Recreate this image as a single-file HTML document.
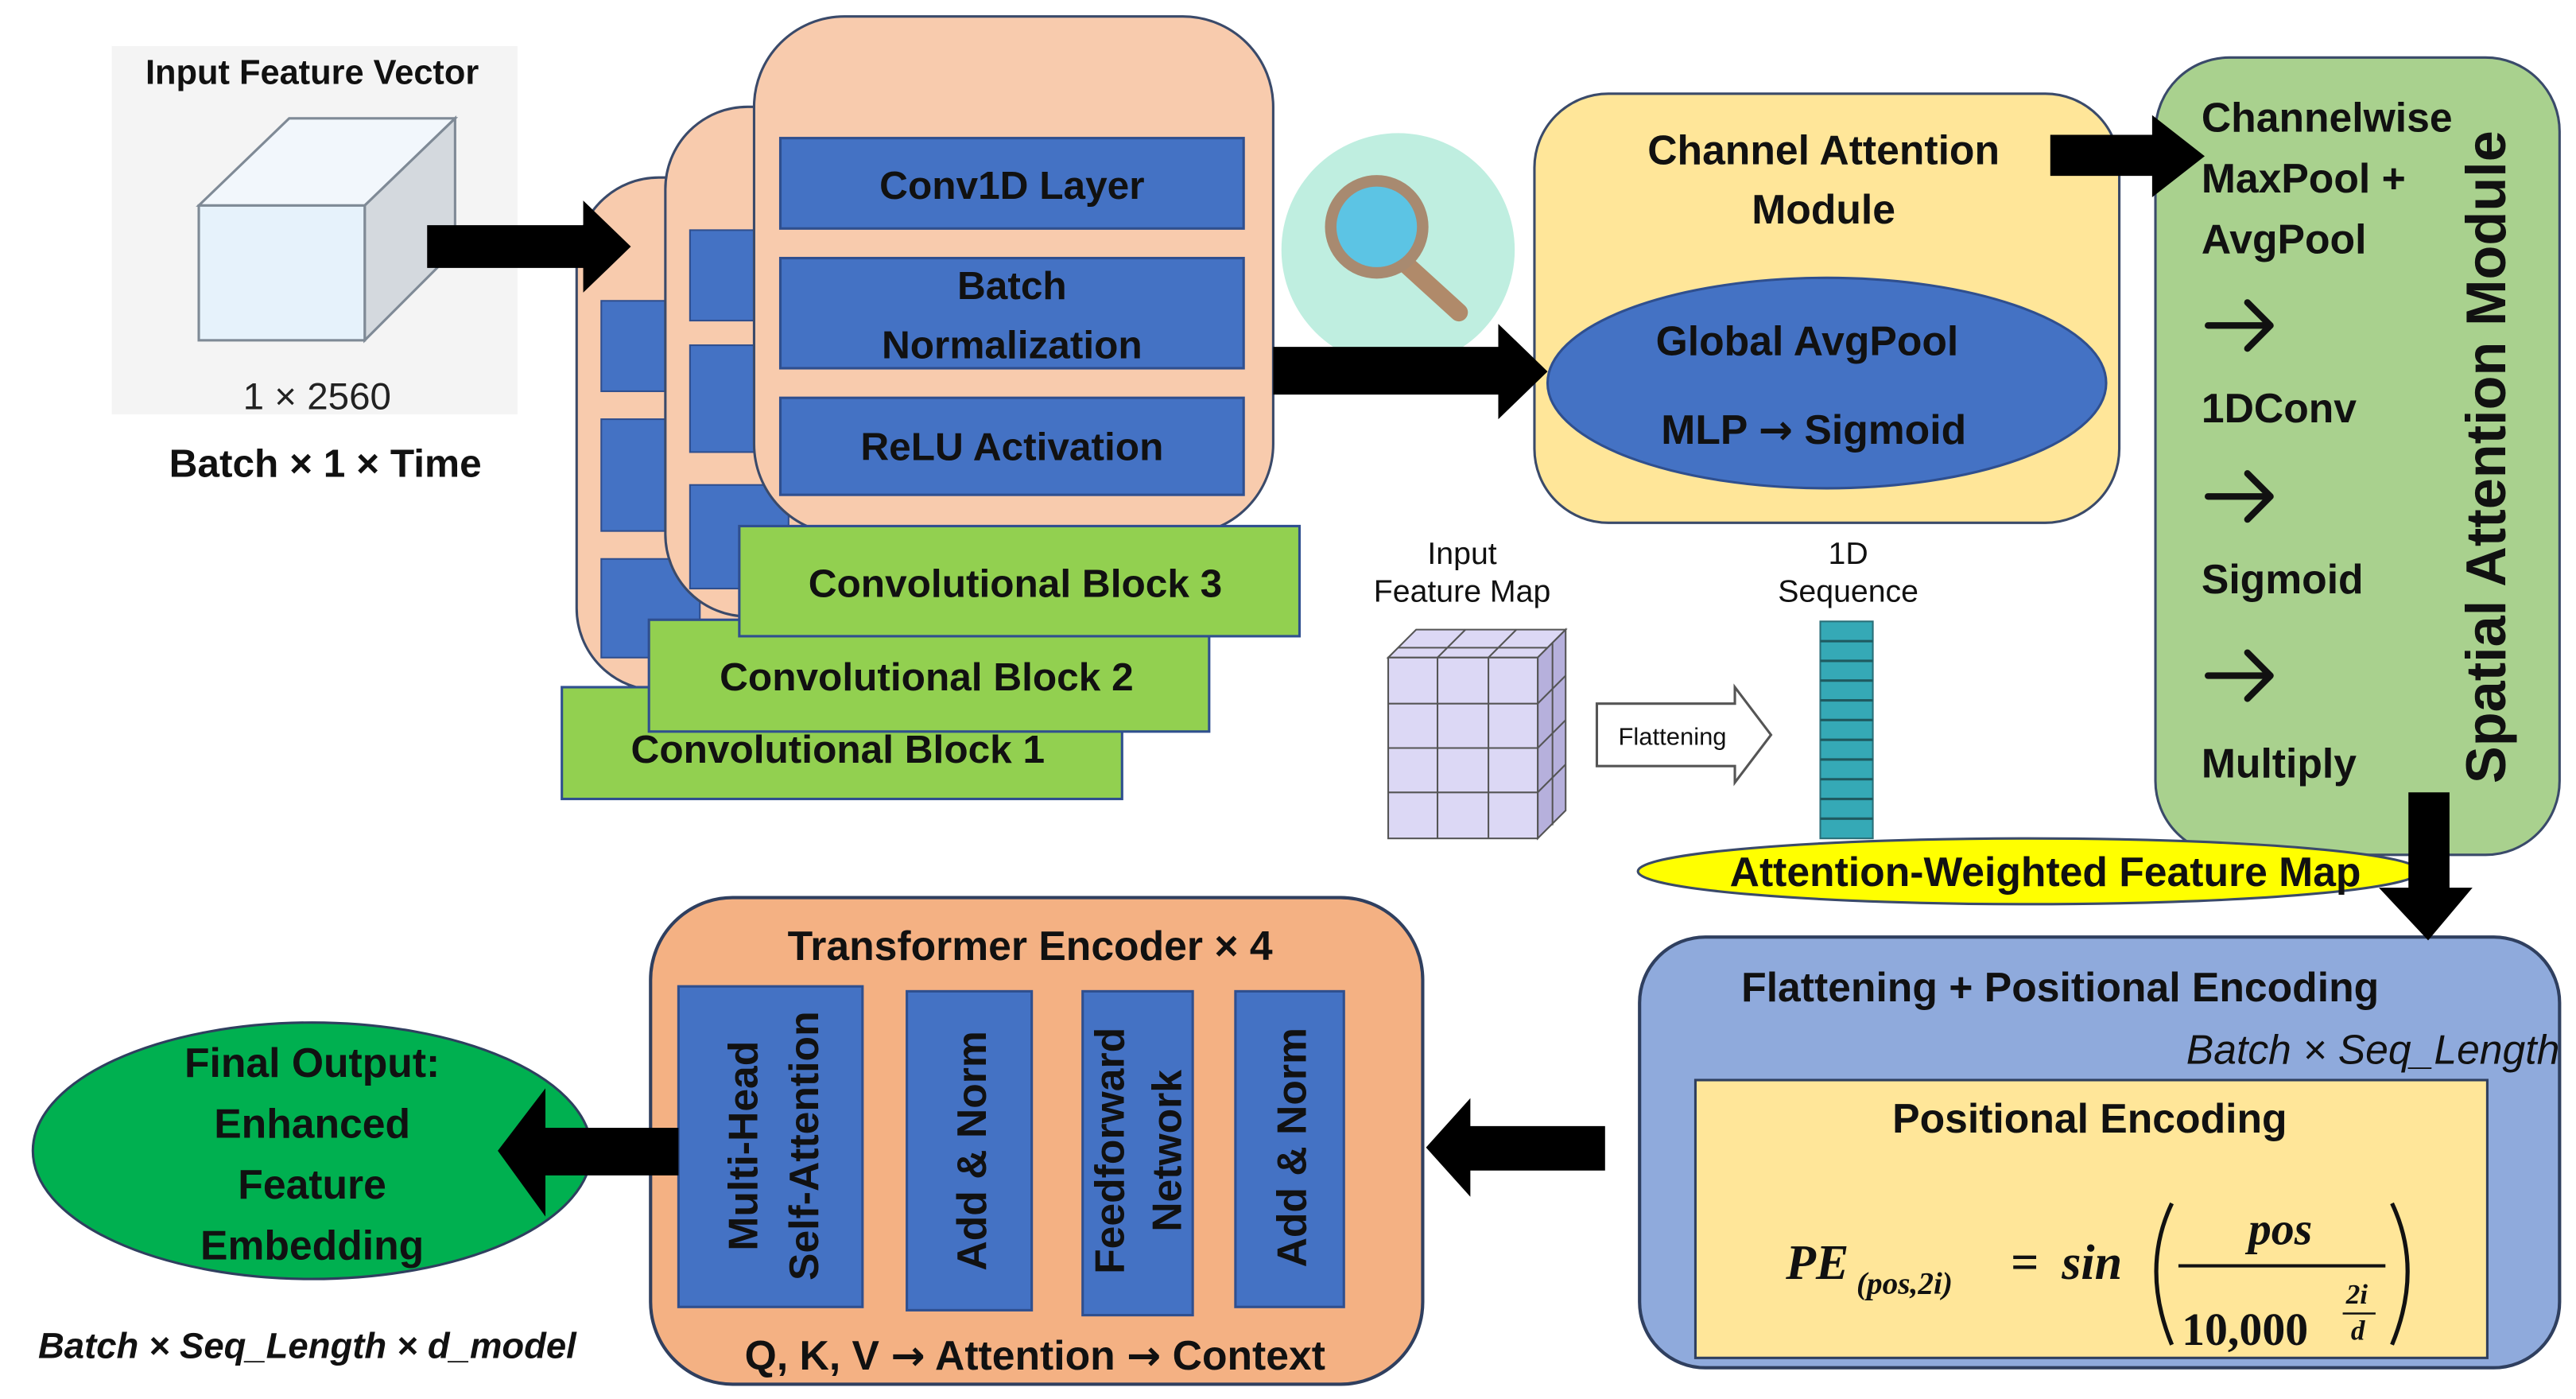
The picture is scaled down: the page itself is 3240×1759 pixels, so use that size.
<!DOCTYPE html>
<html><head><meta charset="utf-8"><style>html,body{margin:0;padding:0;background:#fff}svg{display:block}</style></head>
<body>
<svg width="3240" height="1759" viewBox="0 0 1568 851" preserveAspectRatio="none" xmlns="http://www.w3.org/2000/svg" font-family="Liberation Sans, sans-serif">
<rect width="1568" height="851" fill="#fff"/>
<!-- Input feature vector -->
<rect x="68" y="28" width="247" height="224" fill="#f4f4f4"/>
<text x="190" y="51" font-size="21" font-weight="bold" text-anchor="middle" fill="#111">Input Feature Vector</text>
<polygon points="121,125 176,72 277,72 222,125" fill="#f2f7fc" stroke="#7f8a96" stroke-width="1.5"/>
<polygon points="222,125 277,72 277,152 222,207" fill="#d4d9de" stroke="#7f8a96" stroke-width="1.5"/>
<rect x="121" y="125" width="101" height="82" fill="#e6f2fb" stroke="#7f8a96" stroke-width="1.5"/>
<text x="193" y="249" font-size="23" text-anchor="middle" fill="#222">1 × 2560</text>
<text x="198" y="290" font-size="24" font-weight="bold" text-anchor="middle" fill="#111">Batch × 1 × Time</text>
<!-- conv stacks -->
<rect x="351" y="108" width="316" height="312" rx="50" fill="#f8cbad" stroke="#3a4a6a" stroke-width="1.5"/>
<rect x="366" y="183" width="60" height="55" fill="#4472c4" stroke="#2f4f8f"/>
<rect x="366" y="255" width="60" height="68" fill="#4472c4" stroke="#2f4f8f"/>
<rect x="366" y="340" width="60" height="60" fill="#4472c4" stroke="#2f4f8f"/>
<rect x="405" y="65" width="316" height="310" rx="50" fill="#f8cbad" stroke="#3a4a6a" stroke-width="1.5"/>
<rect x="420" y="140" width="60" height="55" fill="#4472c4" stroke="#2f4f8f"/>
<rect x="420" y="210" width="60" height="65" fill="#4472c4" stroke="#2f4f8f"/>
<rect x="420" y="295" width="60" height="63" fill="#4472c4" stroke="#2f4f8f"/>
<rect x="459" y="10" width="316" height="315" rx="55" fill="#f8cbad" stroke="#3a4a6a" stroke-width="1.5"/>
<rect x="475" y="84" width="282" height="55" fill="#4472c4" stroke="#2f4f8f" stroke-width="1.5"/>
<rect x="475" y="157" width="282" height="67" fill="#4472c4" stroke="#2f4f8f" stroke-width="1.5"/>
<rect x="475" y="242" width="282" height="59" fill="#4472c4" stroke="#2f4f8f" stroke-width="1.5"/>
<g font-size="24" font-weight="bold" fill="#111" text-anchor="middle">
<text x="616" y="121">Conv1D Layer</text>
<text x="616" y="182">Batch</text>
<text x="616" y="218">Normalization</text>
<text x="616" y="280">ReLU Activation</text>
</g>
<rect x="342" y="418" width="341" height="68" fill="#92d050" stroke="#2f4f8f" stroke-width="1.5"/>
<rect x="395" y="377" width="341" height="68" fill="#92d050" stroke="#2f4f8f" stroke-width="1.5"/>
<rect x="450" y="320" width="341" height="67" fill="#92d050" stroke="#2f4f8f" stroke-width="1.5"/>
<g font-size="24" font-weight="bold" fill="#111" text-anchor="middle">
<text x="510" y="464">Convolutional Block 1</text>
<text x="564" y="420">Convolutional Block 2</text>
<text x="618" y="363">Convolutional Block 3</text>
</g>
<!-- magnifier -->
<circle cx="851" cy="152" r="71" fill="#bfeee0"/>
<line x1="855" y1="160" x2="888" y2="190" stroke="#b08a6a" stroke-width="11" stroke-linecap="round"/>
<circle cx="838" cy="138" r="28" fill="#5cc4e4" stroke="#a88a70" stroke-width="7"/>
<!-- channel attention -->
<rect x="934" y="57" width="356" height="261" rx="45" fill="#ffe699" stroke="#3a4a6a" stroke-width="1.5"/>
<text x="1110" y="100" font-size="25" font-weight="bold" text-anchor="middle" fill="#111">Channel Attention</text>
<text x="1110" y="136" font-size="25" font-weight="bold" text-anchor="middle" fill="#111">Module</text>
<ellipse cx="1112" cy="233" rx="170" ry="64" fill="#4472c4" stroke="#2f4f8f" stroke-width="1.5"/>
<text x="1100" y="216" font-size="25" font-weight="bold" text-anchor="middle" fill="#111">Global AvgPool</text>
<text x="1104" y="270" font-size="25" font-weight="bold" text-anchor="middle" fill="#111">MLP <tspan font-family="DejaVu Sans, sans-serif">→</tspan> Sigmoid</text>
<!-- spatial -->
<rect x="1312" y="35" width="246" height="485" rx="45" fill="#a9d18e" stroke="#3a4a6a" stroke-width="1.5"/>
<g font-size="25" font-weight="bold" fill="#111">
<text x="1340" y="80">Channelwise</text>
<text x="1340" y="117">MaxPool +</text>
<text x="1340" y="154">AvgPool</text>
<text x="1340" y="257">1DConv</text>
<text x="1340" y="361">Sigmoid</text>
<text x="1340" y="473">Multiply</text>
</g>
<g stroke="#111" stroke-width="4" fill="none" stroke-linecap="round" stroke-linejoin="round">
<path d="M1344,198 H1382 M1368,184 L1382,198 L1368,212"/>
<path d="M1344,302 H1382 M1368,288 L1382,302 L1368,316"/>
<path d="M1344,411 H1382 M1368,397 L1382,411 L1368,425"/>
</g>
<text transform="translate(1525,278) rotate(-90)" font-size="34" font-weight="bold" text-anchor="middle" fill="#111">Spatial Attention Module</text>
<!-- feature map -->
<text x="890" y="343" font-size="19" text-anchor="middle" fill="#111">Input</text>
<text x="890" y="366" font-size="19" text-anchor="middle" fill="#111">Feature Map</text>
<g stroke="#555" stroke-width="1" fill="#dcd8f5">
<polygon points="845,400 862,383 953,383 936,400" />
<polygon points="936,400 953,383 953,493 936,510" fill="#b6b0dc"/>
<rect x="845" y="400" width="91" height="110"/>
<line x1="875" y1="400" x2="875" y2="510"/><line x1="906" y1="400" x2="906" y2="510"/>
<line x1="845" y1="428" x2="936" y2="428"/><line x1="845" y1="455" x2="936" y2="455"/><line x1="845" y1="482" x2="936" y2="482"/>
<line x1="936" y1="428" x2="953" y2="411"/><line x1="936" y1="455" x2="953" y2="438"/><line x1="936" y1="482" x2="953" y2="465"/>
<line x1="875" y1="400" x2="892" y2="383"/><line x1="906" y1="400" x2="923" y2="383"/>
<line x1="851" y1="394" x2="942" y2="394"/><line x1="945" y1="391" x2="945" y2="502"/>
</g>
<polygon points="972,428 1056,428 1056,418 1078,447 1056,476 1056,466 972,466" fill="#fff" stroke="#555" stroke-width="1.5"/>
<text x="1018" y="453" font-size="15" text-anchor="middle" fill="#111">Flattening</text>
<text x="1125" y="343" font-size="19" text-anchor="middle" fill="#111">1D</text>
<text x="1125" y="366" font-size="19" text-anchor="middle" fill="#111">Sequence</text>
<rect x="1108" y="378" width="32" height="132" fill="#35a9b6" stroke="#2a6f78"/>
<g stroke="#1f5a60" stroke-width="1.5">
<line x1="1108" y1="390" x2="1140" y2="390"/><line x1="1108" y1="402" x2="1140" y2="402"/><line x1="1108" y1="414" x2="1140" y2="414"/><line x1="1108" y1="426" x2="1140" y2="426"/><line x1="1108" y1="438" x2="1140" y2="438"/><line x1="1108" y1="450" x2="1140" y2="450"/><line x1="1108" y1="462" x2="1140" y2="462"/><line x1="1108" y1="474" x2="1140" y2="474"/><line x1="1108" y1="486" x2="1140" y2="486"/><line x1="1108" y1="498" x2="1140" y2="498"/>
</g>
<ellipse cx="1235" cy="530" rx="238" ry="20" fill="#ffff00" stroke="#3a4a6a" stroke-width="1.5"/>
<text x="1245" y="539" font-size="25" font-weight="bold" text-anchor="middle" fill="#111">Attention-Weighted Feature Map</text>
<!-- flattening PE -->
<rect x="998" y="570" width="560" height="262" rx="40" fill="#8faadc" stroke="#2f3f5f" stroke-width="2"/>
<text x="1254" y="609" font-size="25" font-weight="bold" text-anchor="middle" fill="#111">Flattening + Positional Encoding</text>
<text x="1558" y="647" font-size="25" font-style="italic" text-anchor="end" fill="#111">Batch × Seq_Length</text>
<rect x="1032" y="657" width="482" height="169" fill="#ffe699" stroke="#2f3f5f" stroke-width="1.5"/>
<text x="1272" y="689" font-size="25" font-weight="bold" text-anchor="middle" fill="#111">Positional Encoding</text>
<g font-family="Liberation Serif, serif" font-style="italic" font-weight="bold" fill="#111">
<text x="1087" y="778" font-size="30">PE</text>
<text x="1130" y="787" font-size="19">(pos,2i)</text>
<text x="1224" y="778" font-size="30" font-style="normal">=</text>
<text x="1255" y="778" font-size="30">sin</text>
<text x="1388" y="757" font-size="28" text-anchor="middle">pos</text>
<line x1="1326" y1="770" x2="1452" y2="770" stroke="#111" stroke-width="2"/>
<text x="1328" y="818" font-size="28" font-style="normal">10,000</text>
<text x="1428" y="793" font-size="17">2i</text>
<line x1="1426" y1="799" x2="1446" y2="799" stroke="#111" stroke-width="1.2"/>
<text x="1431" y="815" font-size="17">d</text>
</g>
<path d="M1322,732 Q1303,772 1322,818" stroke="#111" stroke-width="2.5" fill="none"/>
<path d="M1456,732 Q1475,772 1456,818" stroke="#111" stroke-width="2.5" fill="none"/>
<!-- transformer -->
<rect x="396" y="546" width="470" height="296" rx="50" fill="#f4b183" stroke="#2f3f5f" stroke-width="2"/>
<text x="627" y="584" font-size="25" font-weight="bold" text-anchor="middle" fill="#111">Transformer Encoder × 4</text>
<rect x="413" y="600" width="112" height="195" fill="#4472c4" stroke="#2f4f8f" stroke-width="1.5"/>
<rect x="552" y="603" width="76" height="194" fill="#4472c4" stroke="#2f4f8f" stroke-width="1.5"/>
<rect x="659" y="603" width="67" height="197" fill="#4472c4" stroke="#2f4f8f" stroke-width="1.5"/>
<rect x="752" y="603" width="66" height="192" fill="#4472c4" stroke="#2f4f8f" stroke-width="1.5"/>
<g font-size="25" font-weight="bold" fill="#111" text-anchor="middle">
<text transform="translate(461,697) rotate(-90)">Multi-Head</text>
<text transform="translate(498,697) rotate(-90)">Self-Attention</text>
<text transform="translate(600,700) rotate(-90)">Add &amp; Norm</text>
<text transform="translate(684,700) rotate(-90)">Feedforward</text>
<text transform="translate(719,700) rotate(-90)">Network</text>
<text transform="translate(795,698) rotate(-90)">Add &amp; Norm</text>
</g>
<text x="630" y="833" font-size="25" font-weight="bold" text-anchor="middle" fill="#111">Q, K, V <tspan font-family="DejaVu Sans, sans-serif">→</tspan> Attention <tspan font-family="DejaVu Sans, sans-serif">→</tspan> Context</text>
<!-- output -->
<ellipse cx="190" cy="700" rx="170" ry="78" fill="#00b050" stroke="#2f3f5f" stroke-width="1.5"/>
<g font-size="25" font-weight="bold" fill="#111" text-anchor="middle">
<text x="190" y="655">Final Output:</text>
<text x="190" y="692">Enhanced</text>
<text x="190" y="729">Feature</text>
<text x="190" y="766">Embedding</text>
</g>
<text x="187" y="826" font-size="22" font-weight="bold" font-style="italic" text-anchor="middle" fill="#111">Batch × Seq_Length × d_model</text>
<!-- arrows on top -->
<polygon points="260,137 355,137 355,122 384,150 355,178 355,163 260,163" fill="#000"/>
<polygon points="775,211 912,211 912,197 942,226 912,255 912,240 775,240" fill="#000"/>
<polygon points="1248,82 1310,82 1310,70 1342,95 1310,120 1310,107 1248,107" fill="#000"/>
<polygon points="1466,482 1491,482 1491,540 1505,540 1478,572 1448,540 1466,540" fill="#000"/>
<polygon points="977,685 895,685 895,668 868,698 895,728 895,712 977,712" fill="#000"/>
<polygon points="413,686 332,686 332,662 303,700 332,740 332,715 413,715" fill="#000"/>
</svg>
</body></html>
